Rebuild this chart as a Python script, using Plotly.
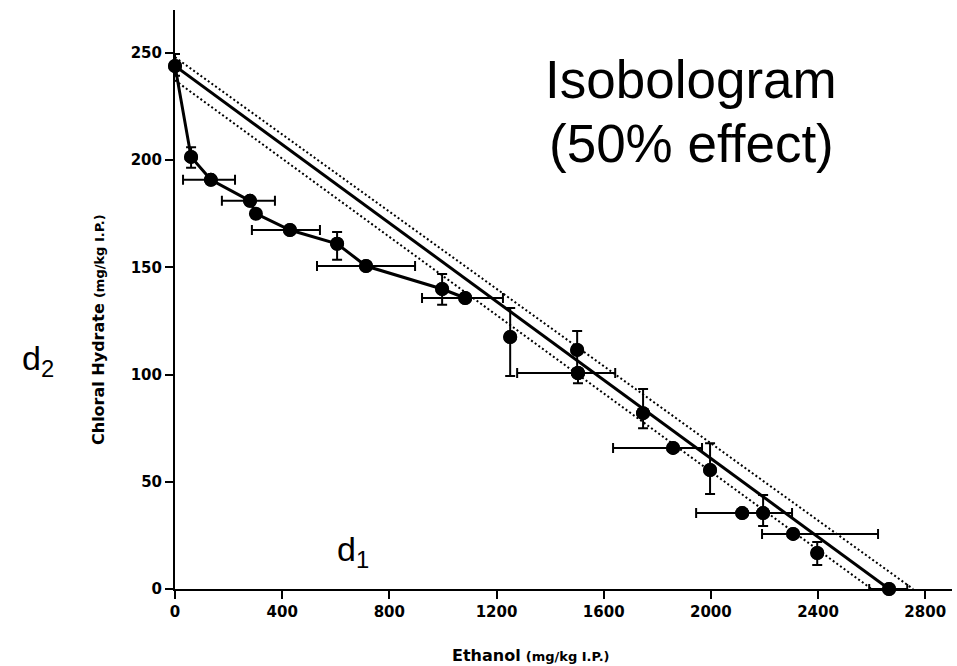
import plotly.graph_objects as go

# ---- data ----
ethanol = [0, 60, 134, 280, 302, 429, 605, 713, 997, 1083, 1251, 1501, 1504,
           1747, 1859, 1997, 2117, 2195, 2307, 2397, 2665]
chloral = [243.9, 201.5, 190.8, 181, 175, 167.4, 161, 150.6, 139.9, 135.7, 117.5,
           111.5, 100.7, 82, 65.8, 55.5, 35.4, 35.4, 25.7, 16.8, 0]
ethanol_err_plus = [0, 0, 90, 93, 0, 112, 0, 183, 0, 141, 0, 0, 139, 0, 108, 0,
                    186, 0, 317, 0, 68]
ethanol_err_minus = [0, 0, 104, 105, 0, 142, 0, 183, 0, 161, 0, 0, 227, 0, 224, 0,
                     172, 0, 116, 0, 74]
chloral_err_plus = [5.6, 4.5, 0, 0, 0, 0, 5.5, 0, 7, 0, 13.5, 8.8, 0, 11.3, 0,
                    12.5, 0, 8.4, 0, 5.1, 0]
chloral_err_minus = [4.6, 5.1, 0, 0, 0, 0, 7.5, 0, 7.4, 0, 18.2, 8.8, 4.7, 7, 0,
                     11.2, 0, 6, 0, 5.6, 0]
n_connected = 10  # first points joined by the experimental curve

additive_x = [0, 2665]
additive_y = [243.9, 0]
ci_upper_x = [0, 2755]
ci_upper_y = [248, 0]
ci_lower_x = [0, 2600]
ci_lower_y = [237.2, 0]

x_ticks = [0, 400, 800, 1200, 1600, 2000, 2400, 2800]
y_ticks = [0, 50, 100, 150, 200, 250]

# ---- layout geometry ----
L, R, T, B = 175, 5, 10, 77
W, H = 957, 666
PW, PH = W - L - R, H - T - B


def px(xp):
    return (xp - L) / PW


def py(yp):
    return (T + PH - yp) / PH


fig = go.Figure()

# confidence limits (dotted)
for xs, ys in [(ci_upper_x, ci_upper_y), (ci_lower_x, ci_lower_y)]:
    fig.add_trace(go.Scatter(x=xs, y=ys, mode="lines",
                             line=dict(color="black", width=2, dash="2px,2.5px"),
                             hoverinfo="skip", showlegend=False, cliponaxis=False))
# additive isobole
fig.add_trace(go.Scatter(x=additive_x, y=additive_y, mode="lines",
                         line=dict(color="black", width=3),
                         showlegend=False, cliponaxis=False))
# experimental curve joining the first points
fig.add_trace(go.Scatter(x=ethanol[:n_connected], y=chloral[:n_connected], mode="lines",
                         line=dict(color="black", width=3),
                         showlegend=False, cliponaxis=False))

idx_v = [i for i in range(len(ethanol)) if chloral_err_plus[i] or chloral_err_minus[i]]
idx_h = [i for i in range(len(ethanol)) if ethanol_err_plus[i] or ethanol_err_minus[i]]

fig.add_trace(go.Scatter(
    x=[ethanol[i] for i in idx_v], y=[chloral[i] for i in idx_v], mode="markers",
    marker=dict(color="black", size=14),
    error_y=dict(type="data", symmetric=False,
                 array=[chloral_err_plus[i] for i in idx_v],
                 arrayminus=[chloral_err_minus[i] for i in idx_v],
                 color="black", thickness=2, width=5),
    showlegend=False, cliponaxis=False))
fig.add_trace(go.Scatter(
    x=[ethanol[i] for i in idx_h], y=[chloral[i] for i in idx_h], mode="markers",
    marker=dict(color="black", size=14),
    error_x=dict(type="data", symmetric=False,
                 array=[ethanol_err_plus[i] for i in idx_h],
                 arrayminus=[ethanol_err_minus[i] for i in idx_h],
                 color="black", thickness=2, width=5),
    showlegend=False, cliponaxis=False))
fig.add_trace(go.Scatter(x=ethanol, y=chloral, mode="markers",
                         marker=dict(color="black", size=14),
                         showlegend=False, cliponaxis=False))

tickfont = dict(family="DejaVu Sans", size=15, color="black", weight="bold")

fig.update_xaxes(range=[0, 2900], tickvals=x_ticks, ticktext=[str(v) for v in x_ticks],
                 showline=True, linecolor="black", linewidth=2, ticks="outside",
                 ticklen=8, tickwidth=2, tickcolor="black", showgrid=False,
                 zeroline=False, tickfont=tickfont)
fig.update_yaxes(range=[0, 270], tickvals=y_ticks, ticktext=[str(v) for v in y_ticks],
                 showline=True, linecolor="black", linewidth=2, ticks="outside",
                 ticklen=8, tickwidth=2, tickcolor="black", showgrid=False,
                 zeroline=False, tickfont=tickfont)

big = dict(family="Liberation Sans, Arial", size=53, color="black")
ann = [
    dict(text="Isobologram", x=px(691), y=py(80), font=big),
    dict(text="(50% effect)", x=px(691), y=py(144), font=big),
    dict(text="d<sub>2</sub>", x=px(38), y=py(360), font=dict(family="Liberation Sans, Arial", size=34, color="black")),
    dict(text="d<sub>1</sub>", x=px(353), y=py(551), font=dict(family="Liberation Sans, Arial", size=34, color="black")),
    dict(text="<b>Chloral Hydrate</b> <span style='font-size:13px'><b>(mg/kg I.P.)</b></span>",
         x=px(98), y=py(330), textangle=-90,
         font=dict(family="DejaVu Sans", size=16, color="black")),
    dict(text="<b>Ethanol</b> <span style='font-size:13px'><b>(mg/kg I.P.)</b></span>",
         x=px(531), y=py(655),
         font=dict(family="DejaVu Sans", size=16, color="black")),
]
for a in ann:
    a.update(xref="paper", yref="paper", showarrow=False,
             xanchor="center", yanchor="middle")

fig.update_layout(width=W, height=H, margin=dict(l=L, r=R, t=T, b=B),
                  plot_bgcolor="white", paper_bgcolor="white",
                  annotations=ann, showlegend=False)

fig.write_html("out.html")
